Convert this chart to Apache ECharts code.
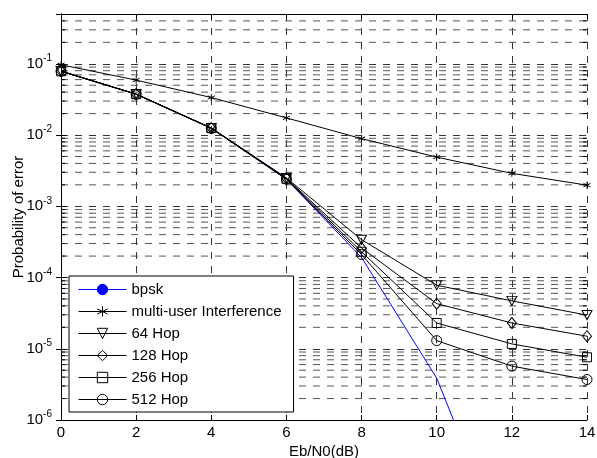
<!DOCTYPE html>
<html>
<head>
<meta charset="utf-8">
<script src="https://cdn.jsdelivr.net/npm/echarts@6/dist/echarts.min.js"></script>
<style>
  html, body { margin: 0; padding: 0; background: #fff; }
  #chart { width: 597px; height: 458px; }
</style>
</head>
<body>
<div id="chart"></div>
<script>
// Eb/N0 (dB)
const snr = [0, 2, 4, 6, 8, 10, 12, 14]
const bpsk = [0.0786, 0.0375, 0.0125, 0.00239, 1.91e-4, 3.87e-6, 9.0e-9, 6.8e-13]
const multiUser = [0.097, 0.059, 0.0336, 0.0174, 0.0089, 0.0049, 0.0029, 0.00198]
const hop64 = [0.079, 0.0376, 0.0126, 0.0025, 3.4e-4, 7.8e-5, 4.7e-5, 2.97e-5]
const hop128 = [0.079, 0.0375, 0.0125, 0.00246, 2.6e-4, 4.3e-5, 2.3e-5, 1.5e-5]
const hop256 = [0.0785, 0.0374, 0.0125, 0.00243, 2.3e-4, 2.3e-5, 1.17e-5, 7.6e-6]
const hop512 = [0.0785, 0.0374, 0.0124, 0.0024, 2.1e-4, 1.3e-5, 5.7e-6, 3.7e-6]
const names = ['bpsk', 'multi-user Interference', '64 Hop', '128 Hop', '256 Hop', '512 Hop']

// minor log gridlines 2..9 x 10^k
const minorVals = []
for (let k = -6; k <= -1; k++) {
  for (let m = 2; m <= 9; m++) {
    const v = m * Math.pow(10, k)
    if (v < 0.5) minorVals.push(v)
  }
}

const font = 'Liberation Sans, Arial, sans-serif'
const dash = [7, 7]
const blue = '#0000ff'

const pair = arr => snr.map((x, i) => [x, arr[i]])

const asterisk = 'path://M5,0L5,10M0.7,2.5L9.3,7.5M9.3,2.5L0.7,7.5'
const triDown = 'path://M0,0L10,0L5,9Z'

function hopSeries(name, data, symbol, size) {
  return {
    name: name,
    type: 'line',
    data: pair(data),
    symbol: symbol,
    symbolSize: size,
    showAllSymbol: true,
    lineStyle: { color: '#000', width: 1 },
    itemStyle: { color: 'transparent', borderColor: '#000', borderWidth: 1 },
    z: 3
  }
}

const chart = echarts.init(document.getElementById('chart'))
chart.setOption({
  animation: false,
  textStyle: { fontFamily: font },
  grid: { left: 61, top: 14, width: 526, height: 406, outerBoundsMode: 'none', containLabel: false },
  legend: {
    data: names,
    orient: 'vertical',
    left: 69,
    top: 276,
    padding: [6, 12, 5, 9],
    itemWidth: 48,
    itemHeight: 13,
    itemGap: 7,
    borderColor: '#000',
    borderWidth: 1,
    backgroundColor: '#fff',
    lineStyle: { width: 1 },
    itemStyle: { borderWidth: 1 },
    textStyle: { fontSize: 15, color: '#000', fontFamily: font },
    z: 10
  },
  xAxis: [{
    type: 'value',
    min: 0, max: 14, interval: 2,
    name: 'Eb/N0(dB)',
    nameLocation: 'middle',
    nameGap: 24,
    nameMoveOverlap: false,
    nameTextStyle: { fontSize: 15, color: '#000' },
    axisLine: { lineStyle: { color: '#000', width: 1 } },
    axisTick: { inside: true, length: 5, lineStyle: { color: '#000' } },
    axisLabel: { fontSize: 15, color: '#000', margin: 5 },
    splitLine: { show: true, lineStyle: { color: '#333', type: dash, width: 1 } }
  }, {
    type: 'value',
    position: 'top',
    min: 0, max: 14, interval: 2,
    axisLine: { show: true, lineStyle: { color: '#000', width: 1 } },
    axisTick: { show: true, inside: true, length: 5, lineStyle: { color: '#000' } },
    axisLabel: { show: false },
    splitLine: { show: false }
  }],
  yAxis: [{
    type: 'log',
    logBase: 10,
    min: 1e-6, max: 0.5,
    name: 'Probability of error',
    nameLocation: 'middle',
    nameGap: 35,
    nameMoveOverlap: false,
    nameTextStyle: { fontSize: 15, color: '#000' },
    axisLine: { show: true, lineStyle: { color: '#000', width: 1 } },
    axisTick: { show: true, inside: true, length: 5, lineStyle: { color: '#000' } },
    axisLabel: {
      margin: 9,
      formatter: function (v) {
        const l = Math.log10(v)
        const e = Math.round(l)
        if (Math.abs(l - e) > 1e-6) return ''
        return '{b|10}{s|' + e + '}'
      },
      rich: {
        b: { fontSize: 15, color: '#000', fontFamily: font },
        s: { fontSize: 10, color: '#000', fontFamily: font, padding: [0, 0, 11, 0] }
      }
    },
    splitLine: { show: true, lineStyle: { color: '#333', type: dash, width: 1 } }
  }, {
    type: 'log',
    logBase: 10,
    position: 'right',
    min: 1e-6, max: 0.5,
    axisLine: { show: true, lineStyle: { color: '#000', width: 1 } },
    axisTick: { show: true, inside: true, length: 5, lineStyle: { color: '#000' } },
    axisLabel: { show: false },
    splitLine: { show: false }
  }],
  series: [
    {
      type: 'custom',
      name: 'minor',
      silent: true,
      data: minorVals.map(v => [0, v]),
      encode: { x: 0, y: 1 },
      z: 1,
      renderItem: function (params, api) {
        const v = api.value(1)
        const a = api.coord([0, v])
        const b = api.coord([14, v])
        return {
          type: 'group',
          children: [
            { type: 'line', shape: { x1: a[0], y1: a[1], x2: b[0], y2: b[1] },
              style: { stroke: '#555', lineWidth: 1, lineDash: dash } },
            { type: 'line', shape: { x1: a[0], y1: a[1], x2: a[0] + 4, y2: a[1] },
              style: { stroke: '#000', lineWidth: 1 } },
            { type: 'line', shape: { x1: b[0] - 4, y1: b[1], x2: b[0], y2: b[1] },
              style: { stroke: '#000', lineWidth: 1 } }
          ]
        }
      }
    },
    {
      name: 'bpsk',
      type: 'line',
      data: pair(bpsk),
      symbol: 'none',
      // no marker: the legend entry is a thin blue bar
      legendIcon: 'path://M0,0L48,0L48,1L0,1Z',
      lineStyle: { color: blue, width: 1 },
      itemStyle: { color: blue, borderColor: blue, borderWidth: 0 },
      z: 3
    },
    hopSeries('multi-user Interference', multiUser, asterisk, 7),
    hopSeries('64 Hop', hop64, triDown, [10, 9]),
    hopSeries('128 Hop', hop128, 'diamond', [9, 11]),
    hopSeries('256 Hop', hop256, 'rect', 9),
    hopSeries('512 Hop', hop512, 'circle', 10)
  ]
})
</script>
</body>
</html>
